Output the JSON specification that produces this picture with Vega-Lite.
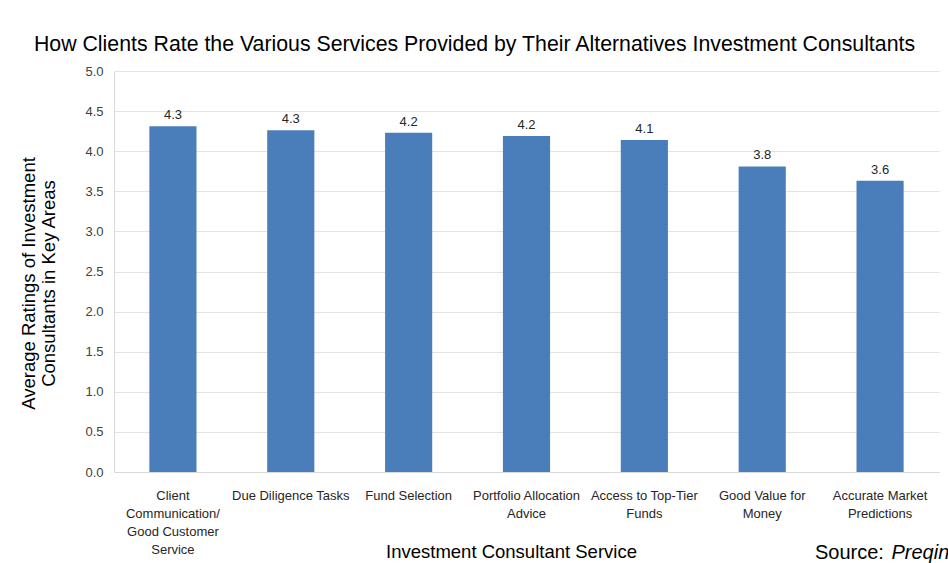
{
  "$schema": "https://vega.github.io/schema/vega-lite/v6.json",
  "autosize": {"type": "none"},
  "padding": {"left": 114, "top": 71, "right": 9, "bottom": 91},
  "width": 825,
  "height": 401,
  "background": "white",
  "config": {
    "font": "Liberation Sans",
    "view": {"stroke": null}
  },
  "title": {
    "text": "How Clients Rate the Various Services Provided by Their Alternatives Investment Consultants",
    "fontSize": 21.3,
    "fontWeight": "normal",
    "color": "#000000",
    "anchor": "middle",
    "dx": -52,
    "offset": 10
  },
  "layer": [
    {
      "data": {
        "values": [
          {"service": "Client|Communication/|Good Customer|Service", "rating": 4.31},
          {"service": "Due Diligence Tasks", "rating": 4.26},
          {"service": "Fund Selection", "rating": 4.23},
          {"service": "Portfolio Allocation|Advice", "rating": 4.19},
          {"service": "Access to Top-Tier|Funds", "rating": 4.14},
          {"service": "Good Value for|Money", "rating": 3.81},
          {"service": "Accurate Market|Predictions", "rating": 3.63}
        ]
      },
      "layer": [
        {
          "mark": {"type": "bar", "color": "#4a7ebb"},
          "encoding": {
            "x": {
              "field": "service",
              "type": "nominal",
              "sort": null,
              "scale": {"paddingInner": 0.6, "paddingOuter": 0.3},
              "axis": {
                "title": "Investment Consultant Service",
                "titleFontSize": 18.5,
                "titleFontWeight": "normal",
                "titleColor": "#000000",
                "titleY": 70,
                "titleX": 397,
                "labelExpr": "split(datum.label, '|')",
                "labelAngle": 0,
                "labelFontSize": 13,
                "labelColor": "#262626",
                "labelLineHeight": 18,
                "labelPadding": 17,
                "labelBaseline": "top",
                "ticks": false,
                "domainColor": "#d9d9d9",
                "labelLimit": 200
              }
            },
            "y": {
              "field": "rating",
              "type": "quantitative",
              "scale": {"domain": [0, 5]},
              "axis": {
                "title": ["Average Ratings of Investment", "Consultants in Key Areas"],
                "titleFontSize": 18.5,
                "titleFontWeight": "normal",
                "titleColor": "#000000",
                "titleLineHeight": 20,
                "titlePadding": 26,
                "titleY": 212,
                "values": [0, 0.5, 1, 1.5, 2, 2.5, 3, 3.5, 4, 4.5, 5],
                "format": ".1f",
                "labelFontSize": 13,
                "labelColor": "#404040",
                "labelPadding": 11,
                "ticks": false,
                "domainColor": "#d9d9d9",
                "gridColor": "#e3e3e3"
              }
            }
          }
        },
        {
          "mark": {"type": "text", "baseline": "bottom", "dy": -4, "fontSize": 13, "color": "#262626"},
          "encoding": {
            "x": {"field": "service", "type": "nominal", "sort": null},
            "y": {"field": "rating", "type": "quantitative"},
            "text": {"field": "rating", "type": "quantitative", "format": ".1f"}
          }
        }
      ]
    },
    {
      "data": {"values": [{"note": "Source:"}]},
      "mark": {"type": "text", "align": "left", "baseline": "middle", "dy": 81, "dx": -41.5, "fontSize": 20, "color": "#000000"},
      "encoding": {
        "x": {"datum": "Accurate Market|Predictions", "type": "nominal", "bandPosition": 0},
        "y": {"datum": 0, "type": "quantitative"},
        "text": {"field": "note"}
      }
    },
    {
      "data": {"values": [{"note": "Preqin"}]},
      "mark": {"type": "text", "align": "left", "baseline": "middle", "dy": 81, "dx": 35, "fontSize": 20, "fontStyle": "italic", "color": "#000000"},
      "encoding": {
        "x": {"datum": "Accurate Market|Predictions", "type": "nominal", "bandPosition": 0},
        "y": {"datum": 0, "type": "quantitative"},
        "text": {"field": "note"}
      }
    }
  ]
}
